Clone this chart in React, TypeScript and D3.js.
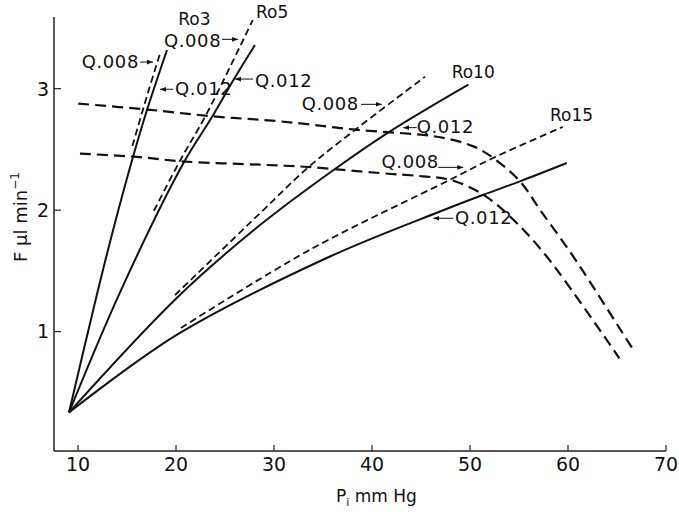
import React from "react";
import * as d3 from "d3";

// ---- data (x: Pi mm Hg, y: F µl/min) ----
const xTicks = [10, 20, 30, 40, 50, 60, 70];
const yTicks = [1, 2, 3];

const ro3Q012: [number, number][] = [[9.08, 0.334], [12.04, 1.342], [13.77, 1.894], [15.61, 2.437], [17.04, 2.824], [19.08, 3.318]];
const ro3Q008: [number, number][] = [[15.55, 2.528], [17.0, 2.93], [18.42, 3.302]];
const ro5Q012: [number, number][] = [[9.08, 0.334], [14.39, 1.342], [20.82, 2.396], [23.67, 2.766], [25.92, 3.079], [28.06, 3.359]];
const ro5Q008: [number, number][] = [[17.75, 1.995], [20.41, 2.407], [23.06, 2.783], [27.83, 3.565]];
const ro10Q012: [number, number][] = [[9.08, 0.334], [20.23, 1.289], [28.57, 1.877], [36.22, 2.339], [41.84, 2.649], [49.83, 3.034]];
const ro10Q008: [number, number][] = [[19.9, 1.301], [28.57, 1.974], [33.5, 2.353], [38.26, 2.66], [45.41, 3.098]];
const ro15Q012: [number, number][] = [[9.08, 0.334], [20.07, 0.973], [35.71, 1.618], [46.94, 1.989], [51.36, 2.127], [55.1, 2.237], [59.87, 2.388]];
const ro15Q008: [number, number][] = [[20.5, 1.03], [33.67, 1.674], [47.96, 2.25], [52.38, 2.43], [59.46, 2.685]];
const upperCurve: [number, number][] = [[10.03, 2.877], [17.07, 2.828], [23.8, 2.772], [30.61, 2.731], [38.27, 2.663], [46.94, 2.6], [50.34, 2.525], [52.38, 2.429], [55.1, 2.237], [57.14, 2.003], [60.54, 1.618], [66.6, 0.857]];
const lowerCurve: [number, number][] = [[10.2, 2.465], [15.71, 2.44], [20.92, 2.4], [28.57, 2.374], [33.5, 2.355], [40.82, 2.305], [45.2, 2.278], [47.96, 2.25], [51.36, 2.127], [54.42, 1.921], [57.83, 1.618], [65.24, 0.78]];

// ---- annotations (data coordinates) ----
const seriesLabels = [
  { text: "Ro3", x: 20.23, y: 3.524 },
  { text: "Ro5", x: 28.16, y: 3.579 },
  { text: "Ro10", x: 48.13, y: 3.085 },
  { text: "Ro15", x: 58.16, y: 2.736 },
];
const qLabels = [
  { text: "Q.008", x: 10.38, y: 3.168, ax1: 16.33, ax2: 17.65, ay: 3.219 },
  { text: "Q.008", x: 18.77, y: 3.345, ax1: 24.69, ax2: 26.33, ay: 3.406 },
  { text: "Q.012", x: 19.9, y: 2.948, ax1: 19.72, ax2: 18.37, ay: 2.995 },
  { text: "Q.012", x: 28.06, y: 3.011, ax1: 27.86, ax2: 26.02, ay: 3.079 },
  { text: "Q.008", x: 32.82, y: 2.824, ax1: 38.88, ax2: 40.99, ay: 2.871 },
  { text: "Q.012", x: 44.56, y: 2.638, ax1: 44.56, ax2: 43.19, ay: 2.679 },
  { text: "Q.008", x: 40.98, y: 2.344, ax1: 46.76, ax2: 49.31, ay: 2.352 },
  { text: "Q.012", x: 48.47, y: 1.886, ax1: 48.3, ax2: 46.25, ay: 1.933 },
];

const W = 679;
const H = 512;
const FONT = "'DejaVu Sans', sans-serif";

export default function App() {
  const x = d3.scaleLinear().domain([7.55, 70]).range([54, 666]);
  const y = d3.scaleLinear().domain([0.017, 3.59]).range([451, 17]);
  const line = d3
    .line<[number, number]>()
    .x((d) => x(d[0]))
    .y((d) => y(d[1]))
    .curve(d3.curveCatmullRom.alpha(0.5));

  const solid = [ro3Q012, ro5Q012, ro10Q012, ro15Q012];
  const dashed = [ro3Q008, ro5Q008, ro10Q008, ro15Q008];
  const bigDashed = [upperCurve, lowerCurve];

  return (
    <svg
      width={W}
      height={H}
      style={{ position: "absolute", left: 0, top: 0, background: "#fff" }}
      fontFamily={FONT}
    >
      <defs>
        <marker id="ah" viewBox="0 0 10 10" refX="10" refY="5" markerWidth="6" markerHeight="6" markerUnits="userSpaceOnUse" orient="auto">
          <path d="M0,1 L10,5 L0,9 Z" fill="#111" />
        </marker>
      </defs>
      <rect x={0} y={0} width={W} height={H} fill="#fff" />

      {/* axes */}
      <line x1={x.range()[0]} x2={x.range()[1]} y1={y.range()[0]} y2={y.range()[0]} stroke="#222" strokeWidth={1.5} />
      <line x1={x.range()[0]} x2={x.range()[0]} y1={y.range()[0]} y2={y.range()[1]} stroke="#222" strokeWidth={1.5} />
      {xTicks.map((t) => (
        <g key={"xt" + t}>
          <line x1={x(t)} x2={x(t)} y1={y.range()[0]} y2={y.range()[0] - 6} stroke="#222" strokeWidth={1.2} />
          <text x={x(t)} y={471} textAnchor="middle" fontSize={19} fill="#111">{t}</text>
        </g>
      ))}
      {yTicks.map((t) => (
        <g key={"yt" + t}>
          <line x1={x.range()[0]} x2={x.range()[0] + 7} y1={y(t)} y2={y(t)} stroke="#222" strokeWidth={1.2} />
          <text x={49} y={y(t)} dy="0.36em" textAnchor="end" fontSize={19} fill="#111">{t}</text>
        </g>
      ))}

      {/* axis titles */}
      <text x={336} y={502} fontSize={17} fill="#111">
        P<tspan fontSize={11} dy={4}>i</tspan>
        <tspan dy={-4}> mm Hg</tspan>
      </text>
      <text transform="translate(27,262) rotate(-90)" fontSize={18} fill="#111">
        F μl min<tspan fontSize={12} dy={-8}>−1</tspan>
      </text>

      {/* curves */}
      {bigDashed.map((d, i) => (
        <path key={"bd" + i} d={line(d) || ""} fill="none" stroke="#111" strokeWidth={2.2} strokeDasharray="11,6" />
      ))}
      {solid.map((d, i) => (
        <path key={"s" + i} d={line(d) || ""} fill="none" stroke="#111" strokeWidth={2} />
      ))}
      {dashed.map((d, i) => (
        <path key={"d" + i} d={line(d) || ""} fill="none" stroke="#111" strokeWidth={1.8} strokeDasharray="7,4" />
      ))}

      {/* labels */}
      {seriesLabels.map((l) => (
        <text key={l.text} x={x(l.x)} y={y(l.y)} fontSize={17} fill="#111">{l.text}</text>
      ))}
      {qLabels.map((l, i) => (
        <g key={"q" + i}>
          <text x={x(l.x)} y={y(l.y)} fontSize={18} letterSpacing={0.6} fill="#111">{l.text}</text>
          <line x1={x(l.ax1)} x2={x(l.ax2)} y1={y(l.ay)} y2={y(l.ay)} stroke="#111" strokeWidth={1} markerEnd="url(#ah)" />
        </g>
      ))}
    </svg>
  );
}
